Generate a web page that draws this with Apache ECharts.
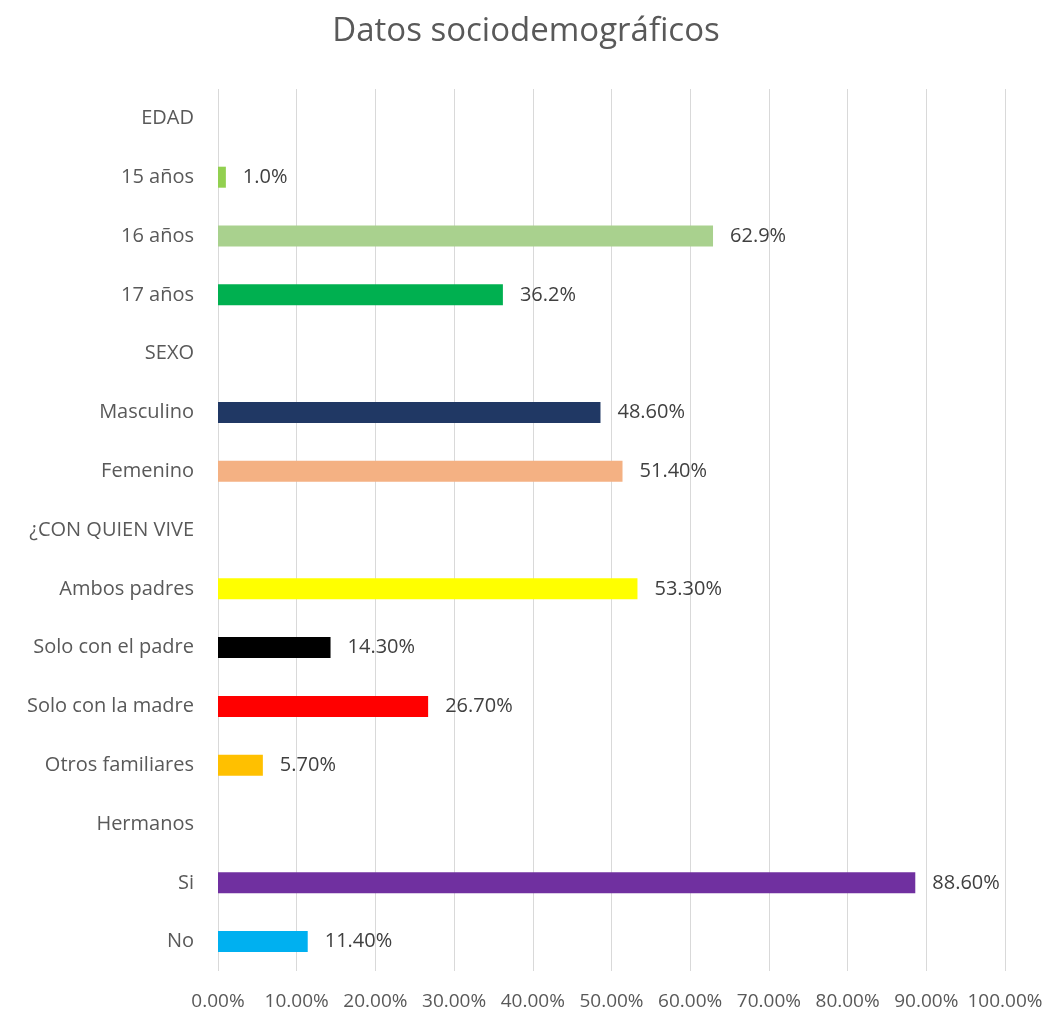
<!DOCTYPE html>
<html>
<head>
<meta charset="utf-8">
<script src="https://cdn.jsdelivr.net/npm/echarts@6/dist/echarts.min.js"></script>
<style>
  html, body { margin: 0; padding: 0; background: #fff; }
  #chart { width: 1052px; height: 1012px; }
</style>
</head>
<body>
<div id="chart"></div>
<script>
// categorias, de arriba hacia abajo
const categories = ['EDAD', '15 años', '16 años', '17 años', 'SEXO', 'Masculino', 'Femenino',
  '¿CON QUIEN VIVE', 'Ambos padres', 'Solo con el padre', 'Solo con la madre',
  'Otros familiares', 'Hermanos', 'Si', 'No']
// valores en %, null = fila de encabezado sin barra
const values = [null, 1.0, 62.9, 36.2, null, 48.6, 51.4, null, 53.3, 14.3, 26.7, 5.7, null, 88.6, 11.4]
// etiquetas tal como aparecen
const valueLabels = ['', '1.0%', '62.9%', '36.2%', '', '48.60%', '51.40%', '', '53.30%', '14.30%', '26.70%', '5.70%', '', '88.60%', '11.40%']
const barColors = ['#fff', '#92d050', '#a9d18e', '#00b050', '#fff', '#203864', '#f4b183', '#fff',
  '#ffff00', '#000000', '#ff0000', '#ffc000', '#fff', '#7030a0', '#00b0f0']
const xTicks = [0, 10, 20, 30, 40, 50, 60, 70, 80, 90, 100]

const font = '"Open Sans", "Noto Sans", sans-serif'
const myChart = echarts.init(document.getElementById('chart'))
myChart.setOption({
  animation: false,
  title: {
    text: 'Datos sociodemográficos',
    left: 'center',
    top: 10,
    textStyle: { color: '#595959', fontSize: 33, fontWeight: 'normal', fontFamily: font }
  },
  grid: { left: 218, right: 47, top: 89, bottom: 41, containLabel: false },
  xAxis: {
    type: 'value',
    min: xTicks[0],
    max: xTicks[xTicks.length - 1],
    interval: 10,
    axisLine: { show: false },
    axisTick: { show: false },
    splitLine: { lineStyle: { color: '#d9d9d9', width: 1 } },
    axisLabel: {
      margin: 21,
      color: '#595959',
      fontSize: 19,
      fontFamily: font,
      hideOverlap: false,
      interval: 0,
      formatter: v => v.toFixed(2) + '%'
    }
  },
  yAxis: {
    type: 'category',
    inverse: true,
    data: categories,
    axisLine: { show: false },
    axisTick: { show: false },
    axisLabel: { margin: 24, color: '#595959', fontSize: 20, fontFamily: font, interval: 0 }
  },
  series: [
    {
      type: 'bar',
      barWidth: 21,
      data: values.map((v, i) => ({
        value: v === null ? '-' : v,
        itemStyle: { color: barColors[i] }
      })),
      label: {
        show: true,
        position: 'right',
        distance: 17,
        color: '#404040',
        fontSize: 20,
        fontFamily: font,
        formatter: p => valueLabels[p.dataIndex]
      }
    }
  ]
})
window.addEventListener('resize', () => {
  myChart.resize()
})
</script>
</body>
</html>
